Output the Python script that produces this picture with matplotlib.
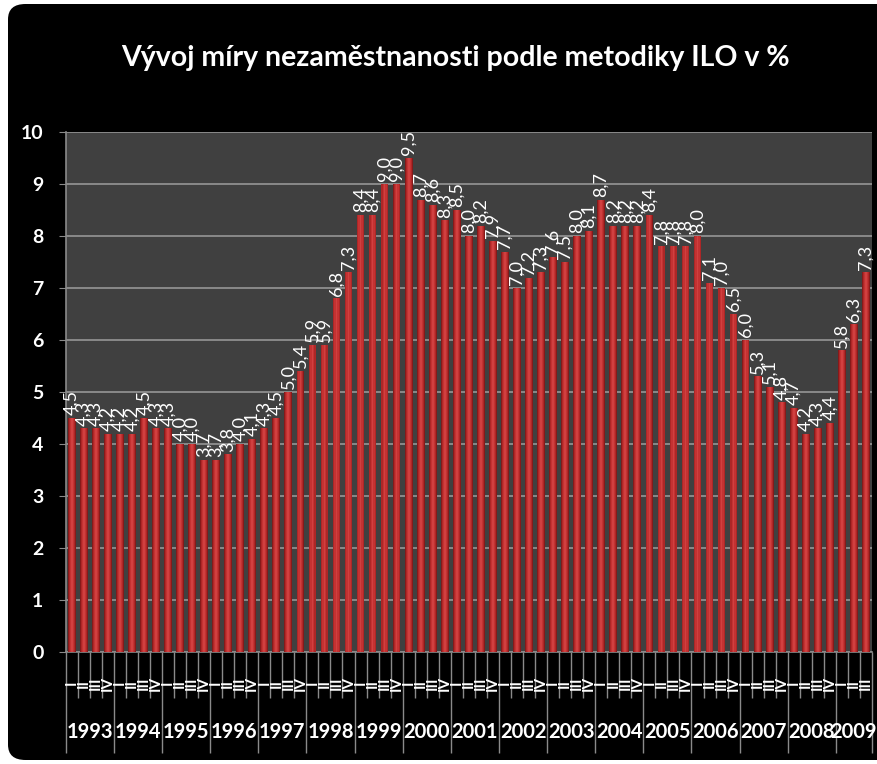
import matplotlib
matplotlib.use("Agg")
import matplotlib.pyplot as plt
from matplotlib.patches import FancyBboxPatch
from matplotlib.transforms import blended_transform_factory
import numpy as np

# ---- data ----
title = "Vývoj míry nezaměstnanosti podle metodiky ILO v %"
years = [str(y) for y in range(1993, 2010)]
quarters = ["I", "II", "III", "IV"]
rates = [4.5, 4.3, 4.3, 4.2,
         4.2, 4.2, 4.5, 4.3,
         4.3, 4.0, 4.0, 3.7,
         3.7, 3.8, 4.0, 4.1,
         4.3, 4.5, 5.0, 5.4,
         5.9, 5.9, 6.8, 7.3,
         8.4, 8.4, 9.0, 9.0,
         9.5, 8.7, 8.6, 8.3,
         8.5, 8.0, 8.2, 7.9,
         7.7, 7.0, 7.2, 7.3,
         7.6, 7.5, 8.0, 8.1,
         8.7, 8.2, 8.2, 8.2,
         8.4, 7.8, 7.8, 7.8,
         8.0, 7.1, 7.0, 6.5,
         6.0, 5.3, 5.1, 4.8,
         4.7, 4.2, 4.3, 4.4,
         5.8, 6.3, 7.3]
yticks = list(range(0, 11))

# ---- figure ----
W, H, DPI = 877, 764, 100
fig = plt.figure(figsize=(W / DPI, H / DPI), dpi=DPI, facecolor="white")
bg = FancyBboxPatch((8 / W, 4 / H), (W - 8) / W + 0.05, (H - 8) / H,
                    boxstyle="round,pad=0,rounding_size=0.02",
                    transform=fig.transFigure, facecolor="black",
                    edgecolor="none", zorder=-10)
fig.patches.append(bg)

ax = fig.add_axes([65.7 / W, 1 - 652 / H, (872 - 65.7) / W, (652 - 132) / H])
ax.set_facecolor("#404040")

n = len(rates)
x = np.arange(n)
vals = np.array(rates)

# pseudo-3D cylinder shading by layering
ax.bar(x, vals, width=0.64, color="#861a1a", zorder=3)
ax.bar(x, vals, width=0.52, color="#ad2727", zorder=4)
ax.bar(x, vals, width=0.34, color="#c43232", zorder=5)
ax.bar(x, vals, width=0.14, color="#d04040", zorder=6)

for xi, v in zip(x, vals):
    ax.annotate(f"{v:.1f}".replace(".", ","), (xi, v), xytext=(0, 2),
                textcoords="offset points", rotation=90, ha="center",
                va="bottom", color="white", fontsize=13, family="Lato",
                zorder=8, annotation_clip=False)

ax.set_xlim(-0.5, n - 0.5)
ax.set_ylim(0, 10)
ax.set_yticks(yticks)
ax.set_yticklabels([str(t) for t in yticks], color="white",
                   fontsize=14, fontweight="bold", family="Lato")
ax.tick_params(axis="y", length=5, color="#8a8a8a", pad=11)
ax.yaxis.grid(True, color="#8a8a8a", linewidth=1.4, zorder=1)
ax.set_axisbelow(True)

for s in ["top", "right"]:
    ax.spines[s].set_visible(False)
ax.spines["left"].set_color("#8a8a8a")
ax.spines["bottom"].set_color("#8a8a8a")
ax.spines["left"].set_linewidth(1.2)
ax.spines["bottom"].set_linewidth(1.2)

# x axis: quarter boundaries (minor) and year boundaries (major)
year_starts = np.arange(0, n, 4)
year_bounds = np.append(year_starts - 0.5, n - 0.5)
ax.set_xticks(year_bounds)
ax.set_xticklabels([])
ax.set_xticks(x - 0.5, minor=True)
ax.tick_params(axis="x", which="major", length=73, color="#8a8a8a", width=1)
ax.tick_params(axis="x", which="minor", length=33, color="#8a8a8a", width=1)

trans = blended_transform_factory(ax.transData, ax.transAxes)
for xi in x:
    ax.text(xi, -0.060, quarters[xi % 4], rotation=90, ha="center",
            va="center", color="white", fontsize=11, fontweight="bold",
            family="Lato", transform=trans, clip_on=False)
for k, yr in enumerate(years):
    lo = year_bounds[k]
    hi = year_bounds[k + 1]
    ax.text((lo + hi) / 2, -0.153, yr, ha="center", va="center",
            color="white", fontsize=14.5, fontweight="bold", family="Lato",
            transform=trans, clip_on=False)

fig.text(0.519, 1 - 58 / H, title, ha="center", va="center", color="white",
         fontsize=20.5, fontweight="bold", family="Lato")

fig.savefig("out.png", dpi=DPI, facecolor=fig.get_facecolor())
